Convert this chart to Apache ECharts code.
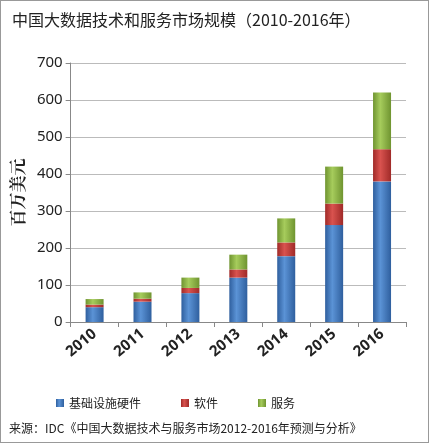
<!DOCTYPE html>
<html><head><meta charset="utf-8">
<script src="https://cdn.jsdelivr.net/npm/echarts@6/dist/echarts.min.js"></script>
<style>html,body{margin:0;padding:0;background:#fff}#c{width:427px;height:441px;border:1px solid #999}</style>
</head><body><div id="c"></div>
<script>
const categories=['2010','2011','2012','2013','2014','2015','2016'];
const hardware=[40,55,78,120,178,262,380];
const software=[7,8,14,22,37,58,87];
const services=[15,17,28,40,65,100,153];
const seriesNames=['基础设施硬件','软件','服务'];
const chart=echarts.init(document.getElementById('c'));
const mk=(name,data,c1,c2)=>({name,type:'bar',stack:'a',data,barWidth:18,
 itemStyle:{color:new echarts.graphic.LinearGradient(0,0,1,0,[{offset:0,color:c2},{offset:0.4,color:c1},{offset:1,color:c2}])}});
chart.setOption({
 animation:false,
 title:{text:'中国大数据技术和服务市场规模（2010-2016年）',left:6,top:6,textStyle:{fontSize:16,fontWeight:'normal',color:'#222',fontFamily:'Noto Sans CJK SC'}},
 grid:{left:58,right:22,top:62,bottom:120},
 legend:{bottom:28,left:50,itemWidth:8,itemHeight:8,itemGap:40,icon:'rect',textStyle:{fontSize:12,color:'#222',fontFamily:'Noto Sans CJK SC'},data:seriesNames},
 graphic:[{type:'text',left:8,bottom:8,style:{text:'来源：IDC《中国大数据技术与服务市场2012-2016年预测与分析》',fontSize:12,fill:'#222',fontFamily:'Noto Sans CJK SC'}}],
 xAxis:{type:'category',data:categories,axisTick:{show:true},axisLine:{lineStyle:{color:'#888'}},
  axisLabel:{rotate:40,fontSize:15,fontWeight:'bold',color:'#222',margin:10,fontFamily:'Noto Sans'}},
 yAxis:{type:'value',min:0,max:700,interval:100,name:'百万美元',nameLocation:'middle',nameGap:42,
  nameTextStyle:{fontSize:17,fontWeight:'bold',color:'#222',fontFamily:'Noto Serif CJK SC, Noto Sans CJK SC'},
  axisLine:{show:true,lineStyle:{color:'#888'}},axisTick:{show:true},
  axisLabel:{fontSize:15,color:'#222',fontFamily:'Noto Sans'},splitLine:{lineStyle:{color:'#bbb'}}},
 series:[mk(seriesNames[0],hardware,'#5b93d6','#2f5f9e'),mk(seriesNames[1],software,'#d9534f','#a02a28'),mk(seriesNames[2],services,'#a6cc5c','#6f9430')]
});
</script></body></html>
